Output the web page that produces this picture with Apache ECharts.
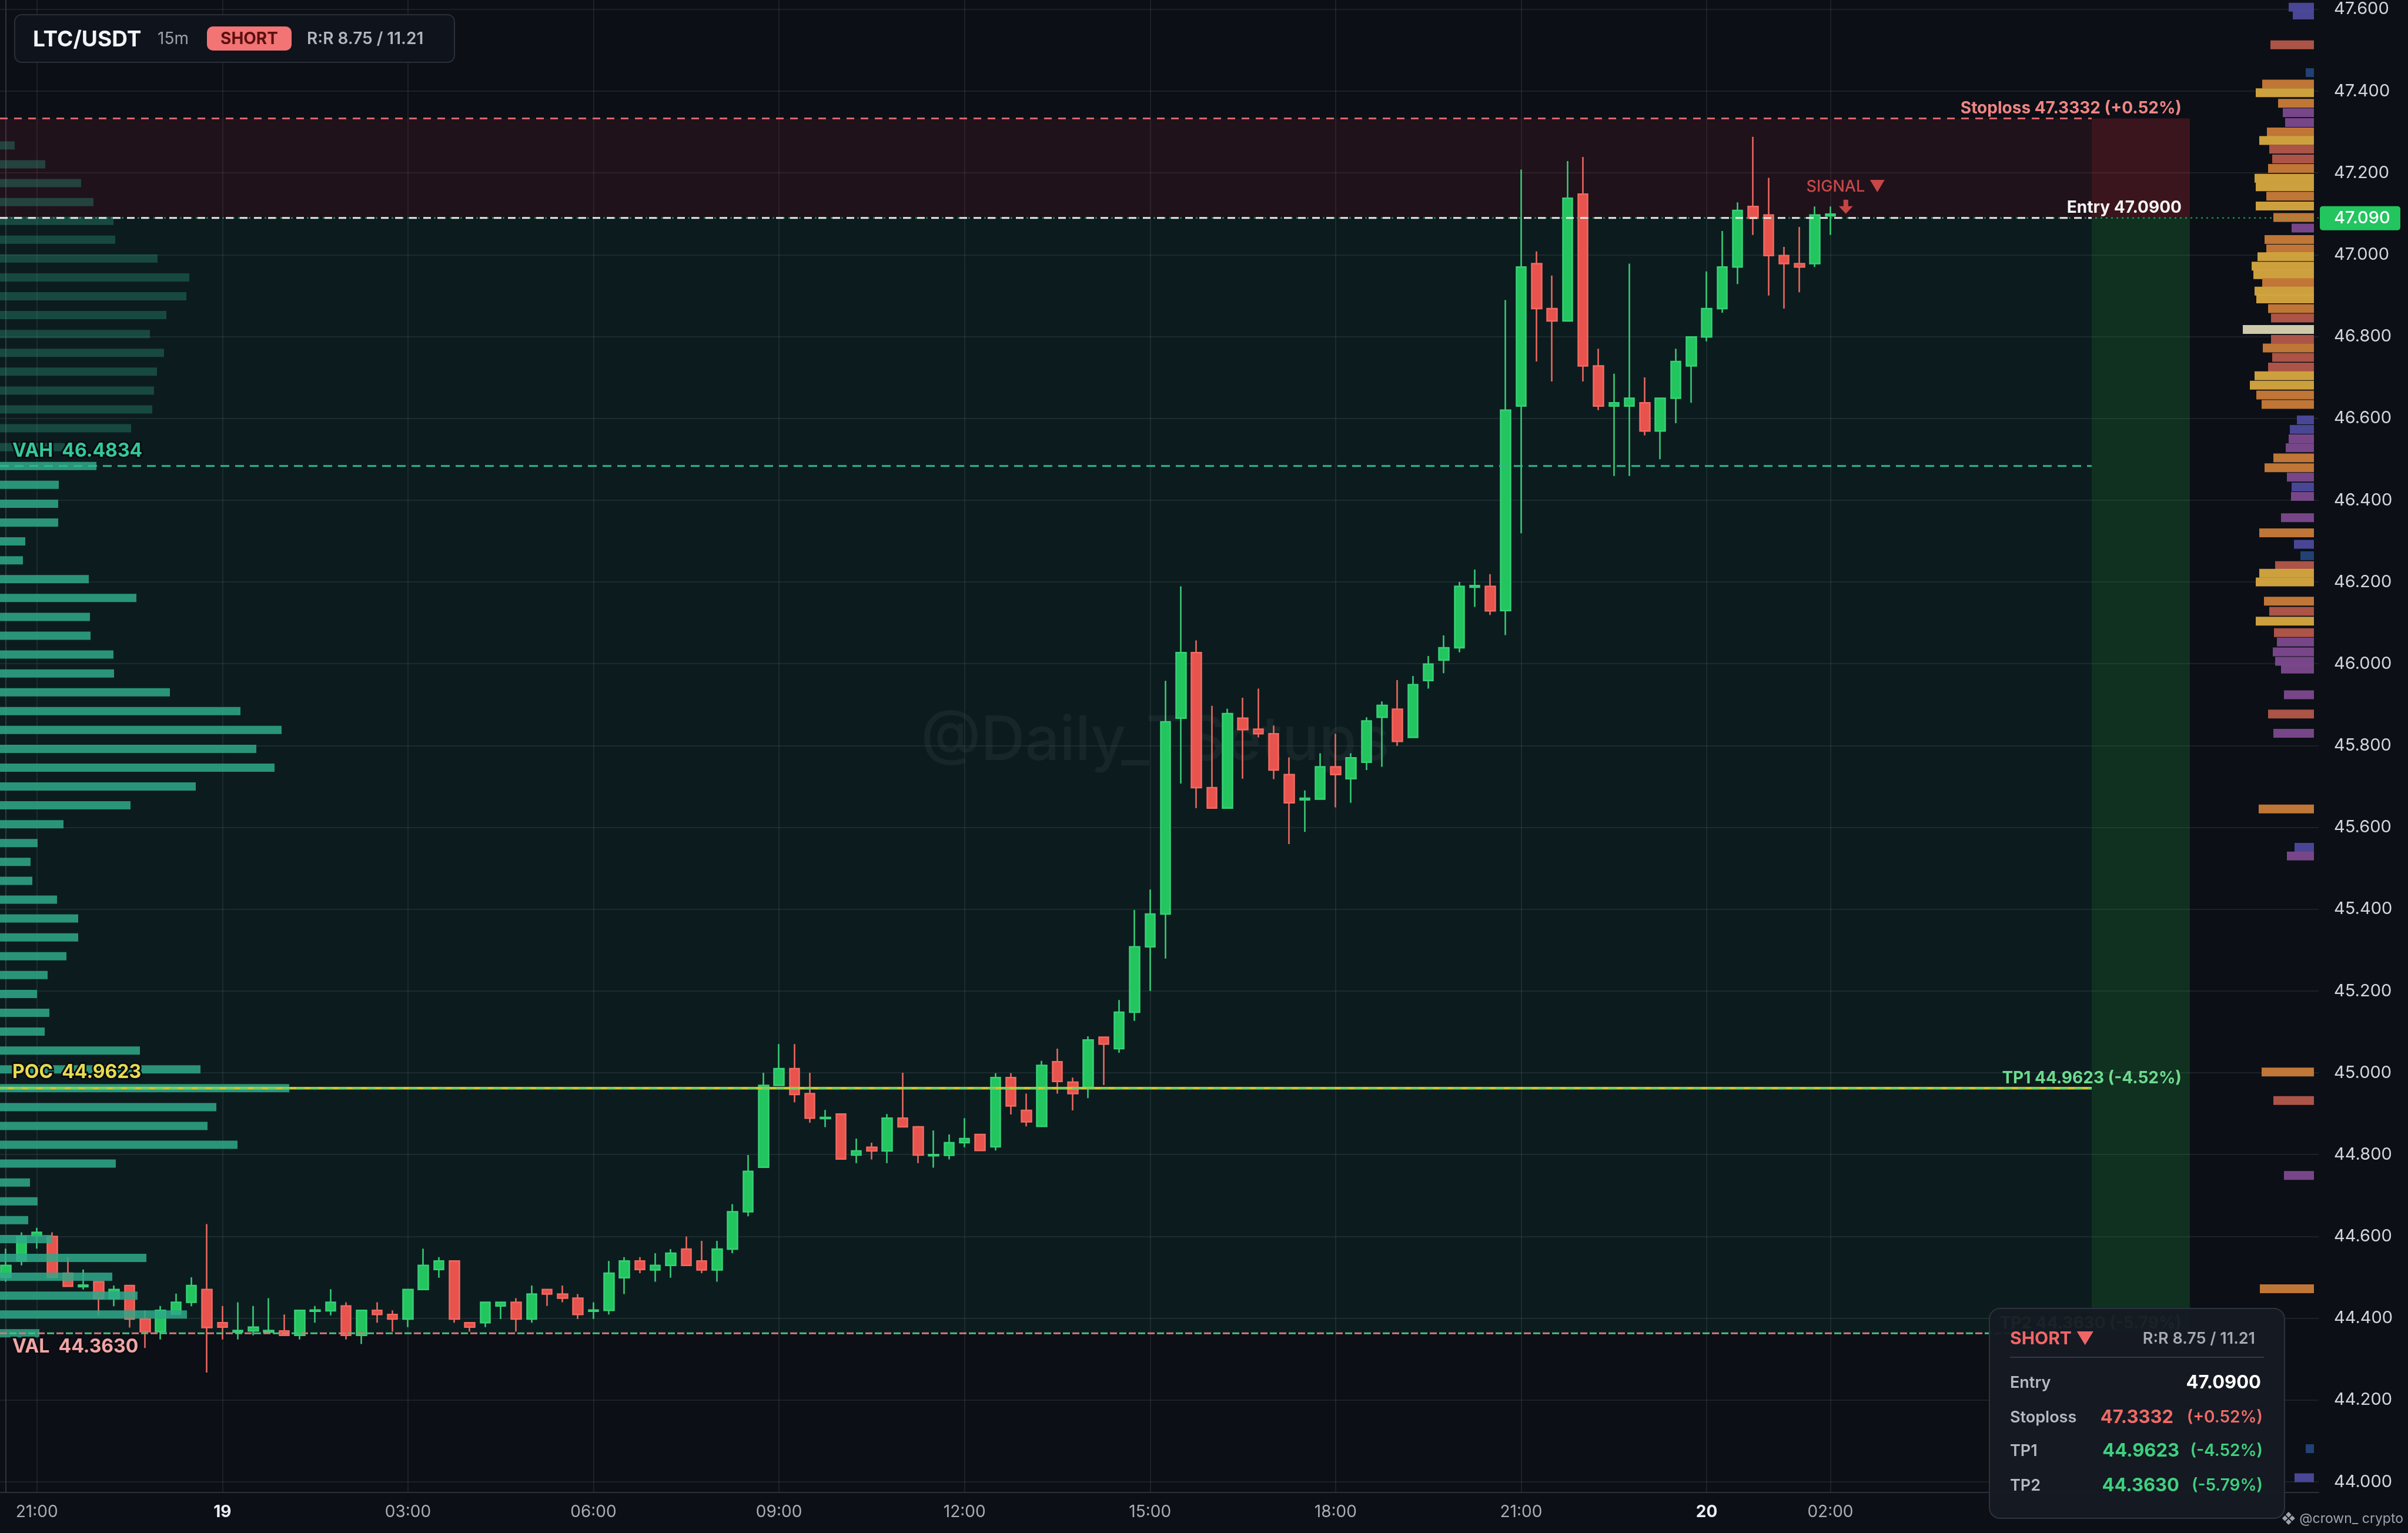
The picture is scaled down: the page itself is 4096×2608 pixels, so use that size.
<!DOCTYPE html>
<html><head><meta charset="utf-8">
<script src="https://cdn.jsdelivr.net/npm/echarts@6/dist/echarts.min.js"></script>
<style>html,body{margin:0;padding:0;background:#0c0f16;}#c{width:4096px;height:2608px;}</style>
</head><body><div id="c"></div>
<script>
// ---------- DATA ----------
const times = ['20:30','20:45','21:00','21:15','21:30','21:45','22:00','22:15','22:30','22:45','23:00','23:15','23:30','23:45',
'00:00','00:15','00:30','00:45','01:00','01:15','01:30','01:45','02:00','02:15','02:30','02:45','03:00','03:15','03:30','03:45',
'04:00','04:15','04:30','04:45','05:00','05:15','05:30','05:45','06:00','06:15','06:30','06:45','07:00','07:15','07:30','07:45',
'08:00','08:15','08:30','08:45','09:00','09:15','09:30','09:45','10:00','10:15','10:30','10:45','11:00','11:15','11:30','11:45',
'12:00','12:15','12:30','12:45','13:00','13:15','13:30','13:45','14:00','14:15','14:30','14:45','15:00','15:15','15:30','15:45',
'16:00','16:15','16:30','16:45','17:00','17:15','17:30','17:45','18:00','18:15','18:30','18:45','19:00','19:15','19:30','19:45',
'20:00','20:15','20:30','20:45','21:00','21:15','21:30','21:45','22:00','22:15','22:30','22:45','23:00','23:15','23:30','23:45',
'00:00','00:15','00:30','00:45','01:00','01:15','01:30','01:45','02:00'];
const opens = [44.500,44.540,44.601,44.600,44.510,44.477,44.489,44.448,44.480,44.398,44.367,44.410,44.439,44.470,
44.389,44.366,44.369,44.366,44.369,44.358,44.417,
44.418,44.430,44.358,44.419,44.409,44.398,44.470,44.519,44.540,44.389,44.389,44.430,44.439,44.398,44.470,44.459,44.449,44.417,44.419,44.499,44.540,
44.518,44.529,44.569,44.540,44.518,44.569,44.660,44.769,44.969,45.010,44.949,44.888,44.899,44.799,44.818,44.809,44.889,44.868,44.797,44.798,44.829,
44.849,44.819,44.988,44.908,44.869,45.027,44.977,44.962,45.087,45.059,45.148,45.308,45.388,45.867,46.027,45.697,45.647,45.867,
45.840,45.829,45.729,45.667,45.669,45.748,45.719,45.759,45.869,45.889,45.820,45.959,46.009,46.039,46.187,46.189,
46.130,46.630,46.978,46.868,46.838,47.148,46.728,46.630,46.630,46.638,46.569,46.649,46.728,46.799,46.868,46.970,47.118,47.097,46.998,46.978,46.978,47.095];
const closes = [44.529,44.600,44.610,44.500,44.478,44.481,44.448,44.470,44.398,44.367,44.419,44.439,44.480,44.377,
44.378,44.370,44.378,44.370,44.358,44.419,44.420,
44.439,44.358,44.419,44.409,44.398,44.470,44.529,44.540,44.398,44.378,44.439,44.439,44.398,44.459,44.459,44.449,44.409,44.420,44.510,44.540,44.519,
44.529,44.559,44.529,44.518,44.569,44.660,44.759,44.969,45.010,44.947,44.889,44.891,44.789,44.809,44.809,44.889,44.868,44.799,44.800,44.829,44.839,
44.810,44.988,44.919,44.880,45.018,44.979,44.949,45.080,45.070,45.148,45.308,45.388,45.858,46.027,45.697,45.647,45.878,45.839,
45.829,45.740,45.660,45.671,45.748,45.729,45.770,45.860,45.898,45.810,45.949,45.999,46.039,46.189,46.191,46.129,
46.620,46.970,46.868,46.838,47.138,46.728,46.630,46.638,46.649,46.569,46.649,46.739,46.799,46.868,46.970,47.108,47.089,46.998,46.978,46.970,47.097,47.099];
const lows = [44.489,44.529,44.570,44.500,44.478,44.470,44.407,44.429,44.377,44.327,44.348,44.410,44.429,44.267,
44.348,44.348,44.358,44.364,44.358,44.348,44.389,
44.407,44.348,44.337,44.389,44.367,44.378,44.470,44.499,44.389,44.367,44.378,44.398,44.367,44.389,44.430,44.439,44.398,44.398,44.409,44.459,44.510,
44.489,44.499,44.529,44.510,44.489,44.559,44.649,44.769,44.969,44.928,44.878,44.867,44.789,44.779,44.788,44.779,44.868,44.779,44.768,44.788,44.818,
44.809,44.810,44.898,44.869,44.869,44.949,44.908,44.938,44.970,45.049,45.127,45.200,45.279,45.707,45.647,45.647,45.647,45.719,
45.820,45.718,45.559,45.589,45.669,45.649,45.660,45.740,45.748,45.799,45.820,45.939,45.977,46.028,46.139,46.119,
46.070,46.319,46.739,46.690,46.838,46.690,46.620,46.459,46.459,46.558,46.500,46.588,46.638,46.788,46.858,46.928,47.048,46.900,46.868,46.908,46.970,47.048];
const highs = [44.570,44.610,44.621,44.610,44.549,44.519,44.490,44.480,44.481,44.419,44.430,44.460,44.500,44.630,
44.430,44.439,44.430,44.449,44.409,44.420,44.430,
44.471,44.439,44.420,44.439,44.419,44.471,44.570,44.549,44.541,44.390,44.440,44.440,44.449,44.480,44.471,44.480,44.459,44.439,44.540,44.549,44.549,
44.559,44.569,44.600,44.589,44.589,44.679,44.799,45.000,45.070,45.070,45.000,44.909,44.900,44.839,44.829,44.899,45.000,44.870,44.859,44.849,44.889,
44.850,44.999,44.999,44.949,45.029,45.059,44.988,45.089,45.088,45.178,45.398,45.448,45.958,46.189,46.057,45.897,45.890,45.917,
45.939,45.849,45.771,45.690,45.781,45.829,45.781,45.869,45.908,45.960,45.970,46.019,46.069,46.200,46.230,46.219,
46.889,47.208,47.008,46.949,47.229,47.239,46.770,46.709,46.978,46.700,46.650,46.770,46.800,46.959,47.058,47.128,47.288,47.188,47.019,47.068,47.118,47.118];

const xTickIndex = [2,14,26,38,50,62,74,86,98,110,118];
const xTickLabels = ['21:00','19','03:00','06:00','09:00','12:00','15:00','18:00','21:00','20','02:00'];
const dayLabels = ['19','20'];
const yTicks = [44.0,44.2,44.4,44.6,44.8,45.0,45.2,45.4,45.6,45.8,46.0,46.2,46.4,46.6,46.8,47.0,47.2,47.4,47.6];

// trade levels
const entryPrice = 47.0900, stopPrice = 47.3332, tp1Price = 44.9623, tp2Price = 44.3630;
const vahPrice = 46.4834, pocPrice = 44.9623, valPrice = 44.3630;
const stopPct = '+0.52%', tp1Pct = '-4.52%', tp2Pct = '-5.79%';
const rrText = 'R:R 8.75 / 11.21';
const lastPrice = 47.090;
const signalIndex = 119, signalPrice = 47.117;

// left volume profile (top to bottom)
const vpPrices = [47.2671,47.2210,47.1749,47.1288,47.0827,47.0366,46.9905,46.9444,46.8983,46.8522,46.8061,46.7600,46.7139,46.6678,46.6217,46.5756,46.5295,46.4834,
46.4373,46.3912,46.3451,46.2990,46.2529,46.2068,46.1607,46.1146,46.0685,46.0224,45.9763,45.9303,45.8842,45.8381,45.7920,45.7459,45.6998,45.6537,45.6076,45.5615,
45.5154,45.4693,45.4232,45.3771,45.3310,45.2849,45.2388,45.1927,45.1466,45.1005,45.0544,45.0083,44.9623,44.9161,44.8701,44.8240,44.7779,44.7318,44.6857,44.6396,
44.5935,44.5474,44.5013,44.4552,44.4091,44.3630];
const vpVolumes = [25,77,138,159,193,196,268,322,317,283,255,279,267,262,259,223,110,164,100,99,99,43,39,151,232,153,154,193,194,289,409,479,436,467,333,222,108,64,52,55,
97,133,133,113,81,63,84,76,238,341,492,368,353,404,197,51,64,48,89,249,191,234,318,67];

// right (session) heat profile (top to bottom)
const rpPrices = [47.605,47.586,47.513,47.445,47.417,47.396,47.370,47.347,47.323,47.300,47.279,47.258,47.234,47.211,47.187,47.166,47.143,47.119,47.091,47.065,47.037,47.014,
46.995,46.972,46.951,46.932,46.911,46.892,46.868,46.845,46.817,46.793,46.772,46.749,46.725,46.704,46.681,46.657,46.634,46.596,46.573,46.550,46.528,46.503,46.479,46.456,
46.432,46.409,46.357,46.320,46.292,46.264,46.240,46.221,46.200,46.153,46.128,46.104,46.076,46.053,46.029,46.006,45.987,45.924,45.877,45.830,45.645,45.551,45.530,45.002,
44.932,44.749,44.472,44.081,44.010];
const rpVolumes = [43,36,74,14,88,99,61,53,49,80,93,76,71,78,101,99,81,99,69,38,84,81,96,106,103,88,101,98,78,73,121,73,87,71,78,101,109,98,89,29,41,43,48,69,84,46,38,39,56,93,
34,23,66,93,99,85,76,99,68,63,70,66,56,51,78,69,94,33,46,89,69,51,92,14,33];
const rpTones = ['B','B','S','D','O','Y','O','P','P','O','Y','S','S','O','Y','Y','O','Y','O','P','O','O','Y','Y','Y','O','Y','Y','O','S','W','S','O','S','S','Y','Y','O','O','B',
'B','P','P','O','O','P','B','P','P','O','B','D','S','Y','Y','O','S','Y','S','P','P','P','P','P','S','P','O','B','P','O','S','P','O','D','B'];

// ---------- LAYOUT / STYLE ----------
const X_MIN = -0.384, X_MAX = 149.58;   // candle-slot axis extent
const LINE_END = 134.9, ZONE_END = 141.25;
const toneColor = {Y:'#d8a940',O:'#c97c38',S:'#b4584a',P:'#7d4a8e',B:'#4d4a9c',D:'#24457a',W:'#dad4b4'};
const FONT = 'Inter';
const TOPZ = 100;

const chart = echarts.init(document.getElementById('c'), null, {renderer:'canvas', width:4096, height:2608});

function hLine(price, x1, x2, color, width, dash, z, offset) {
  return {type:'custom', xAxisIndex:0, yAxisIndex:0, z:z, silent:true, clip:false,
    data:[[x1, price, x2]],
    renderItem:(params, api) => {
      const a = api.coord([api.value(0), api.value(1)]);
      const b = api.coord([api.value(2), api.value(1)]);
      return {type:'line', shape:{x1:a[0], y1:a[1], x2:b[0], y2:b[1]},
        style:{stroke:color, lineWidth:width, lineDash:dash||null, lineDashOffset:offset||0}};
    }};
}
function zone(x1, x2, pTop, pBot, fill) {
  return {type:'custom', xAxisIndex:0, yAxisIndex:0, z:1, silent:true,
    data:[[x1, pTop, x2, pBot]],
    renderItem:(params, api) => {
      const a = api.coord([api.value(0), api.value(1)]);
      const b = api.coord([api.value(2), api.value(3)]);
      return {type:'rect', shape:{x:a[0], y:a[1], width:b[0]-a[0], height:b[1]-a[1]}, style:{fill:fill}};
    }};
}
function levelText(price, text, color, size, mode, dy, outline) {
  return {type:'custom', xAxisIndex:0, yAxisIndex:0, z:8, silent:true, clip:false,
    data:[[mode === 'right' ? ZONE_END : X_MIN, price]],
    renderItem:(params, api) => {
      const a = api.coord([api.value(0), api.value(1)]);
      const st = {text:text, x: mode === 'right' ? a[0]-14 : a[0]+21, y:a[1]+dy, fill:color,
        fontSize:size, fontWeight:'bold', fontFamily:FONT,
        align: mode === 'right' ? 'right' : 'left', textAlign: mode === 'right' ? 'right' : 'left',
        verticalAlign:'middle', textVerticalAlign:'middle'};
      if (outline) { st.stroke = '#0a0d12'; st.lineWidth = 6; }
      return {type:'text', style:st};
    }};
}
function gText(text, x, y, fill, size, weight, align) {
  return {type:'text', z:TOPZ+1, silent:true, style:{text:text, x:x, y:y, fill:fill, fontSize:size, fontWeight:weight||'normal', fontFamily:FONT,
    align:align||'left', textAlign:align||'left', verticalAlign:'middle', textVerticalAlign:'middle'}};
}

const candleData = times.map((t, i) => [i, opens[i], closes[i], lows[i], highs[i]]);

const series = [
  zone(X_MIN, LINE_END, stopPrice, entryPrice, 'rgba(160,40,60,0.13)'),
  zone(LINE_END, ZONE_END, stopPrice, entryPrice, 'rgba(200,40,50,0.25)'),
  zone(X_MIN, LINE_END, entryPrice, tp2Price, 'rgba(20,120,90,0.12)'),
  zone(LINE_END, ZONE_END, entryPrice, tp2Price, 'rgba(30,160,70,0.23)'),
  {
    type:'candlestick', xAxisIndex:0, yAxisIndex:0, z:3, barWidth:17,
    dimensions:['idx','open','close','lowest','highest'],
    encode:{x:0, y:[1,2,3,4]},
    data:candleData,
    itemStyle:{color:'#22c55e', color0:'#e9534d', borderColor:'#38cf78', borderColor0:'#ef6a62', borderWidth:2.5}
  },
  {
    type:'custom', xAxisIndex:1, yAxisIndex:0, z:4, silent:true,
    data: vpPrices.map((p, i) => [vpVolumes[i], p]),
    renderItem:(params, api) => {
      const v = api.value(0), p = api.value(1);
      const a = api.coord([0, p]), b = api.coord([v, p]);
      const inVA = p <= vahPrice + 0.001 && p >= valPrice - 0.001;
      return {type:'rect', shape:{x:a[0], y:a[1]-7, width:b[0]-a[0], height:14},
        style:{fill: inVA ? 'rgba(46,168,136,0.86)' : 'rgba(46,168,136,0.32)'}};
    }
  },
  {
    type:'custom', xAxisIndex:2, yAxisIndex:0, z:4, silent:true, clip:false,
    data: rpPrices.map((p, i) => [rpVolumes[i], p, i]),
    renderItem:(params, api) => {
      const v = api.value(0), p = api.value(1), i = api.value(2);
      const a = api.coord([0, p]), b = api.coord([v, p]);
      return {type:'rect', shape:{x:b[0], y:a[1]-7.5, width:a[0]-b[0], height:15},
        style:{fill: toneColor[rpTones[i]], opacity:0.95}};
    }
  },
  hLine(entryPrice, X_MIN, X_MAX, 'rgba(34,197,94,0.85)', 2, [3,6], 5),
  hLine(stopPrice, X_MIN, LINE_END, '#d9646a', 3, [13,11], 6),
  hLine(entryPrice, X_MIN, LINE_END, '#e8e8e8', 3, [13,11], 6),
  hLine(vahPrice, X_MIN, LINE_END, '#2db88e', 3, [15,10], 6),
  hLine(pocPrice, X_MIN, LINE_END, '#cfc42e', 4.5, null, 6),
  hLine(tp1Price, X_MIN, LINE_END, 'rgba(80,210,120,0.85)', 2.5, [14,10], 6),
  hLine(valPrice, X_MIN, LINE_END, '#d87878', 3, [12,20], 6),
  hLine(tp2Price, X_MIN, LINE_END, '#49c07c', 3, [12,20], 6, 16),
  levelText(stopPrice, 'Stoploss ' + stopPrice.toFixed(4) + ' (' + stopPct + ')', '#f08585', 28, 'right', -17),
  levelText(entryPrice, 'Entry ' + entryPrice.toFixed(4), '#f4f4f4', 28, 'right', -17),
  levelText(tp1Price, 'TP1 ' + tp1Price.toFixed(4) + ' (' + tp1Pct + ')', '#6edb8f', 28, 'right', -17),
  levelText(tp2Price, 'TP2 ' + tp2Price.toFixed(4) + ' (' + tp2Pct + ')', '#6edb8f', 28, 'right', -17),
  levelText(vahPrice, 'VAH  ' + vahPrice.toFixed(4), '#34c99a', 32, 'left', -25, true),
  levelText(pocPrice, 'POC  ' + pocPrice.toFixed(4), '#e8dc50', 32, 'left', -27, true),
  levelText(valPrice, 'VAL  ' + valPrice.toFixed(4), '#f2a5a5', 32, 'left', 23, true),
  {
    type:'custom', xAxisIndex:0, yAxisIndex:0, z:9, silent:true, clip:false,
    data:[[X_MAX, lastPrice]],
    renderItem:(params, api) => {
      const a = api.coord([api.value(0), api.value(1)]);
      return {type:'group', children:[
        {type:'rect', shape:{x:a[0]+2, y:a[1]-20, width:137, height:41, r:5}, style:{fill:'#22c55e'}},
        {type:'text', style:{text:lastPrice.toFixed(3), x:a[0]+26, y:a[1]+1, fill:'#ffffff', fontSize:29, fontWeight:500, fontFamily:FONT,
          align:'left', textAlign:'left', verticalAlign:'middle', textVerticalAlign:'middle'}}
      ]};
    }
  },
  {
    type:'scatter', xAxisIndex:0, yAxisIndex:0, z:9, silent:true,
    data:[[signalIndex, signalPrice]],
    symbol:'path://M8,0 L16,0 L16,11 L24,11 L12,24 L0,11 L8,11 Z', symbolSize:[24,24],
    itemStyle:{color:'#ef5350'},
    label:{show:true, position:'top', distance:8, formatter:'SIGNAL ▼', color:'#f05555', fontSize:27, fontFamily:FONT, fontWeight:500}
  }
];

const option = {
  backgroundColor:'#0c0f16',
  animation:false,
  grid:{left:0, right:152, top:0, bottom:69, containLabel:false, outerBoundsMode:'none'},
  xAxis:[
    {type:'value', min:X_MIN, max:X_MAX, gridIndex:0,
      axisLine:{show:true, lineStyle:{color:'#2a2f39', width:2}},
      axisTick:{show:false, customValues:xTickIndex},
      splitLine:{show:true, lineStyle:{color:'rgba(255,255,255,0.075)', width:2}},
      axisLabel:{customValues:xTickIndex, margin:20, color:'#a9adb5', fontSize:28, fontFamily:FONT,
        formatter:(v) => { const s = xTickLabels[xTickIndex.indexOf(Math.round(v))]; return dayLabels.includes(s) ? '{b|' + s + '}' : s; },
        rich:{b:{fontWeight:'bold', color:'#eceef2', fontSize:28, fontFamily:FONT}}}
    },
    {type:'value', min:0, max:3944, gridIndex:0, show:false},
    {type:'value', min:-8, max:3936, inverse:true, gridIndex:0, show:false}
  ],
  yAxis:[
    {type:'value', position:'right', min:43.974, max:47.6226,
      axisLine:{show:true, lineStyle:{color:'#2f3440', width:2}},
      axisTick:{show:false, customValues:yTicks},
      splitLine:{show:true, lineStyle:{color:'rgba(255,255,255,0.075)', width:2}},
      axisLabel:{customValues:yTicks, margin:26, color:'#d3d6dc', fontSize:29, fontFamily:FONT,
        formatter:(v) => v.toFixed(3)}
    }
  ],
  series:series,
  graphic:[
    {type:'text', z:1, silent:true, style:{text:'@Daily_TSetups', x:1965, y:1262, fill:'rgba(190,200,210,0.065)',
      fontSize:104, fontFamily:FONT, fontWeight:500, align:'center', textAlign:'center', verticalAlign:'middle', textVerticalAlign:'middle'}},
    // header box
    {type:'rect', z:TOPZ, silent:true, shape:{x:25, y:25, width:748, height:81, r:12}, style:{fill:'#0f131b', stroke:'#2a2f3a', lineWidth:2}},
    gText('LTC/USDT', 56, 68, '#f2f4f7', 37, 'bold'),
    gText('15m', 268, 67, '#9ba0a9', 28, 'normal'),
    {type:'rect', z:TOPZ+1, silent:true, shape:{x:352, y:45, width:144, height:41, r:10}, style:{fill:'#f27474'}},
    Object.assign(gText('SHORT', 424, 67, '#5c1010', 28, 'bold', 'center'), {z:TOPZ+2}),
    gText(rrText, 522, 67, '#b0b5be', 28, 600),
    // info box
    {type:'rect', z:TOPZ, silent:true, shape:{x:3384, y:2226, width:502, height:357, r:18}, style:{fill:'rgba(21,26,35,0.95)', stroke:'#2d333e', lineWidth:2}},
    gText('SHORT ▼', 3419, 2278, '#f06666', 30, 'bold'),
    gText(rrText, 3836, 2278, '#a5aab3', 27, 600, 'right'),
    {type:'line', z:TOPZ+1, silent:true, shape:{x1:3419, y1:2309, x2:3851, y2:2309}, style:{stroke:'#323845', lineWidth:2}},
    gText('Entry', 3419, 2353, '#b4b9c2', 27, 600),
    gText(entryPrice.toFixed(4), 3846, 2353, '#ffffff', 31, 'bold', 'right'),
    gText('Stoploss', 3419, 2412, '#b4b9c2', 27, 600),
    gText(stopPrice.toFixed(4), 3697, 2412, '#ee6b66', 31, 'bold', 'right'),
    gText('(' + stopPct + ')', 3849, 2412, '#ee6b66', 28, 600, 'right'),
    gText('TP1', 3419, 2469, '#b4b9c2', 27, 600),
    gText(tp1Price.toFixed(4), 3707, 2469, '#3fd07f', 31, 'bold', 'right'),
    gText('(' + tp1Pct + ')', 3849, 2469, '#3fd07f', 28, 600, 'right'),
    gText('TP2', 3419, 2528, '#b4b9c2', 27, 600),
    gText(tp2Price.toFixed(4), 3707, 2528, '#3fd07f', 31, 'bold', 'right'),
    gText('(' + tp2Pct + ')', 3849, 2528, '#3fd07f', 28, 600, 'right'),
    gText('❖ @crown_ crypto', 4088, 2584, '#9ea3ab', 23, 'normal', 'right')
  ]
};
chart.setOption(option);
</script>
</body></html>
